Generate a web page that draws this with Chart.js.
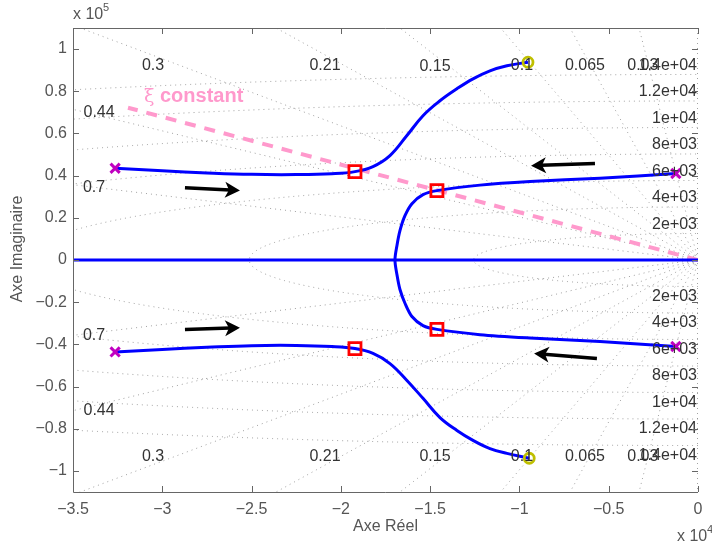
<!DOCTYPE html>
<html lang="fr">
<head>
<meta charset="UTF-8">
<title>Lieu des racines</title>
<script src="https://cdn.jsdelivr.net/npm/chart.js"></script>
<style>
  body { margin: 0; background: #fff; }
  #rl { display: block; }
</style>
</head>
<body>
<canvas id="rl" width="712" height="546"></canvas>
<script>
// real part in units of 1e4, imaginary part in units of 1e5
var xTicks = [-3.5, -3, -2.5, -2, -1.5, -1, -0.5, 0];
var yTicks = [-1, -0.8, -0.6, -0.4, -0.2, 0, 0.2, 0.4, 0.6, 0.8, 1];

var poles = [
    {x: -3.264, y: 0.435}, {x: -3.264, y: -0.436},
    {x: -0.124, y: 0.410}, {x: -0.124, y: -0.410}
];
var zeros = [{x: -0.952, y: 0.938}, {x: -0.945, y: -0.940}];
var marked = [
    {x: -1.921, y: 0.419}, {x: -1.462, y: 0.329},
    {x: -1.462, y: -0.329}, {x: -1.921, y: -0.420}
];

var branchUpperLeft = [
    {x: -3.264, y: 0.435}, {x: -3.0, y: 0.423}, {x: -2.75, y: 0.413},
    {x: -2.5, y: 0.406}, {x: -2.25, y: 0.405}, {x: -2.05, y: 0.409},
    {x: -1.921, y: 0.419}, {x: -1.82, y: 0.443}, {x: -1.725, y: 0.495},
    {x: -1.63, y: 0.590}, {x: -1.54, y: 0.684}, {x: -1.445, y: 0.755},
    {x: -1.35, y: 0.812}, {x: -1.26, y: 0.859}, {x: -1.165, y: 0.897},
    {x: -1.07, y: 0.921}, {x: -0.952, y: 0.938}
];
var branchLowerLeft = [
    {x: -3.264, y: -0.436}, {x: -3.0, y: -0.424}, {x: -2.75, y: -0.414},
    {x: -2.5, y: -0.406}, {x: -2.25, y: -0.405}, {x: -2.05, y: -0.410},
    {x: -1.921, y: -0.420}, {x: -1.82, y: -0.443}, {x: -1.725, y: -0.491},
    {x: -1.63, y: -0.571}, {x: -1.54, y: -0.656}, {x: -1.445, y: -0.747},
    {x: -1.35, y: -0.808}, {x: -1.26, y: -0.855}, {x: -1.165, y: -0.894},
    {x: -1.07, y: -0.917}, {x: -0.945, y: -0.940}
];
var branchRight = [
    {x: -0.124, y: 0.410}, {x: -0.549, y: 0.388}, {x: -0.941, y: 0.372},
    {x: -1.221, y: 0.355}, {x: -1.462, y: 0.329}, {x: -1.54, y: 0.310},
    {x: -1.602, y: 0.267}, {x: -1.641, y: 0.210}, {x: -1.669, y: 0.139},
    {x: -1.686, y: 0.068}, {x: -1.697, y: 0},
    {x: -1.686, y: -0.069}, {x: -1.669, y: -0.140}, {x: -1.641, y: -0.205},
    {x: -1.602, y: -0.268}, {x: -1.54, y: -0.311}, {x: -1.462, y: -0.329},
    {x: -1.221, y: -0.354}, {x: -0.941, y: -0.370}, {x: -0.549, y: -0.387},
    {x: -0.124, y: -0.410}
];
var realAxisLocus = [{x: -3.5, y: 0}, {x: 0, y: 0}];
var zetaLine = [{x: 0, y: 0}, {x: -3.192, y: 0.722}];

// grid values (s-plane)
var dampingLevels = [0.03, 0.065, 0.1, 0.15, 0.21, 0.3, 0.44, 0.7];
var freqLevelsHz = [2e3, 4e3, 6e3, 8e3, 1e4, 1.2e4, 1.4e4];
var freqLabels = ['2e+03', '4e+03', '6e+03', '8e+03', '1e+04', '1.2e+04', '1.4e+04'];
var dampingLabels = [
    {t: '0.3', x: -3.052, y: 0.921}, {t: '0.21', x: -2.089, y: 0.921},
    {t: '0.15', x: -1.473, y: 0.917}, {t: '0.1', x: -0.986, y: 0.921},
    {t: '0.065', x: -0.633, y: 0.921}, {t: '0.03', x: -0.309, y: 0.921},
    {t: '0.44', x: -3.354, y: 0.699}, {t: '0.7', x: -3.382, y: 0.343},
    {t: '0.3', x: -3.052, y: -0.930}, {t: '0.21', x: -2.089, y: -0.930},
    {t: '0.15', x: -1.473, y: -0.930}, {t: '0.1', x: -0.986, y: -0.930},
    {t: '0.065', x: -0.633, y: -0.930}, {t: '0.03', x: -0.309, y: -0.930},
    {t: '0.44', x: -3.354, y: -0.714}, {t: '0.7', x: -3.382, y: -0.358}
];
// arrows: [x from, y from, x to, y to]
var arrows = [
    [-2.873, 0.343, -2.565, 0.329],
    [-2.873, -0.330, -2.565, -0.321],
    [-0.577, 0.458, -0.935, 0.447],
    [-0.566, -0.467, -0.918, -0.443]
];

var FONT = '"Liberation Sans", Arial, sans-serif';
var axisGrey = '#666666';
var textGrey = '#555555';

function fmt(v) {
    var r = Math.round(v * 10) / 10;
    return r < 0 ? '\u2212' + Math.abs(r) : String(r);
}

var gridPlugin = {
    id: 'sgrid',
    beforeDatasetsDraw: function (chart) {
        var ctx = chart.ctx, a = chart.chartArea;
        var xs = chart.scales.x, ys = chart.scales.y;
        var ox = xs.getPixelForValue(0), oy = ys.getPixelForValue(0);
        ctx.save();
        ctx.beginPath();
        ctx.rect(a.left, a.top, a.right - a.left, a.bottom - a.top);
        ctx.clip();
        ctx.strokeStyle = 'rgba(100,100,100,0.6)';
        ctx.lineWidth = 1;
        ctx.setLineDash([1, 4]);
        dampingLevels.forEach(function (z) {
            var wd = Math.sqrt(1 - z * z);
            [1, -1].forEach(function (s) {
                ctx.beginPath();
                ctx.moveTo(ox, oy);
                ctx.lineTo(xs.getPixelForValue(-z * 100), ys.getPixelForValue(s * wd * 10));
                ctx.stroke();
            });
        });
        freqLevelsHz.forEach(function (f) {
            var r = 2 * Math.PI * f;
            var rx = ox - xs.getPixelForValue(-r / 1e4);
            var ry = oy - ys.getPixelForValue(r / 1e5);
            ctx.beginPath();
            ctx.ellipse(ox, oy, rx, ry, 0, Math.PI / 2, 3 * Math.PI / 2);
            ctx.stroke();
        });
        ctx.beginPath();
        ctx.moveTo(a.right - 0.5, a.top);
        ctx.lineTo(a.right - 0.5, a.bottom);
        ctx.stroke();
        ctx.restore();
    }
};

function drawArrow(ctx, x1, y1, x2, y2) {
    var ang = Math.atan2(y2 - y1, x2 - x1);
    var len = Math.hypot(x2 - x1, y2 - y1);
    ctx.save();
    ctx.translate(x2, y2);
    ctx.rotate(ang);
    ctx.strokeStyle = '#000';
    ctx.fillStyle = '#000';
    ctx.lineWidth = 3.5;
    ctx.beginPath();
    ctx.moveTo(-len, 0);
    ctx.lineTo(-10, 0);
    ctx.stroke();
    ctx.beginPath();
    ctx.moveTo(0, 0);
    ctx.lineTo(-15, -8);
    ctx.lineTo(-11, 0);
    ctx.lineTo(-15, 8);
    ctx.closePath();
    ctx.fill();
    ctx.restore();
}

var decorPlugin = {
    id: 'decor',
    afterDatasetsDraw: function (chart) {
        var ctx = chart.ctx, a = chart.chartArea;
        var xs = chart.scales.x, ys = chart.scales.y;
        ctx.save();

        arrows.forEach(function (r) {
            drawArrow(ctx, xs.getPixelForValue(r[0]), ys.getPixelForValue(r[1]),
                xs.getPixelForValue(r[2]), ys.getPixelForValue(r[3]));
        });

        // damping and frequency labels
        ctx.fillStyle = '#333';
        ctx.font = '16px ' + FONT;
        ctx.textBaseline = 'middle';
        ctx.textAlign = 'center';
        dampingLabels.forEach(function (d) {
            ctx.fillText(d.t, xs.getPixelForValue(d.x), ys.getPixelForValue(d.y));
        });
        ctx.textAlign = 'right';
        freqLevelsHz.forEach(function (f, i) {
            var r = 2 * Math.PI * f / 1e5;
            ctx.fillText(freqLabels[i], a.right - 1, ys.getPixelForValue(r) - 9);
            ctx.fillText(freqLabels[i], a.right - 1, ys.getPixelForValue(-r) + 10);
        });

        // xi label
        ctx.fillStyle = '#ff99cc';
        ctx.textAlign = 'left';
        ctx.textBaseline = 'alphabetic';
        ctx.font = '19px "DejaVu Serif", serif';
        ctx.fillText('\u03be', 144, 102);
        ctx.font = 'bold 20px ' + FONT;
        ctx.fillText('constant', 160, 102);

        // box with inward ticks
        ctx.strokeStyle = axisGrey;
        ctx.lineWidth = 1;
        ctx.beginPath();
        ctx.moveTo(a.right, a.top + 0.5);
        ctx.lineTo(a.left + 0.5, a.top + 0.5);
        ctx.lineTo(a.left + 0.5, a.bottom + 0.5);
        ctx.lineTo(a.right, a.bottom + 0.5);
        xTicks.forEach(function (v) {
            var px = Math.round(xs.getPixelForValue(v)) + 0.5;
            ctx.moveTo(px, a.bottom);
            ctx.lineTo(px, a.bottom - 6);
            ctx.moveTo(px, a.top);
            ctx.lineTo(px, a.top + 6);
        });
        yTicks.forEach(function (v) {
            var py = Math.round(ys.getPixelForValue(v)) + 0.5;
            ctx.moveTo(a.left, py);
            ctx.lineTo(a.left + 6, py);
            ctx.moveTo(a.right, py);
            ctx.lineTo(a.right - 6, py);
        });
        ctx.stroke();

        // axis labels and exponents
        ctx.fillStyle = textGrey;
        ctx.font = '16px ' + FONT;
        ctx.fillText('x 10', 73, 19);
        ctx.fillText('x 10', 677, 541);
        ctx.font = '11px ' + FONT;
        ctx.fillText('5', 103, 11);
        ctx.fillText('4', 707, 533);
        ctx.font = '16px ' + FONT;
        ctx.save();
        ctx.translate(18, 249);
        ctx.rotate(-Math.PI / 2);
        ctx.textAlign = 'center';
        ctx.textBaseline = 'middle';
        ctx.fillText('Axe Imaginaire', 0, 0);
        ctx.restore();

        ctx.restore();
    }
};

var locusStyle = {
    type: 'scatter', showLine: true, borderColor: '#0000ff', borderWidth: 3,
    pointRadius: 0, tension: 0.4, order: 5, fill: false
};

new Chart(document.getElementById('rl'), {
    type: 'scatter',
    data: {
        datasets: [
            {data: zetaLine, showLine: true, borderColor: '#ff99cc', borderWidth: 4,
                borderDash: [11, 9], pointRadius: 0, order: 10},
            Object.assign({data: realAxisLocus}, locusStyle, {tension: 0}),
            Object.assign({data: branchUpperLeft}, locusStyle),
            Object.assign({data: branchLowerLeft}, locusStyle),
            Object.assign({data: branchRight}, locusStyle, {tension: 0.3}),
            {data: marked, pointStyle: 'rect', pointRadius: 8.5, borderWidth: 2.8,
                borderColor: '#ff0000', backgroundColor: 'rgba(0,0,0,0)', order: 3},
            {data: poles, pointStyle: 'crossRot', pointRadius: 6.5, borderWidth: 3,
                borderColor: '#c000c0', order: 2},
            {data: zeros, pointStyle: 'circle', pointRadius: 5, borderWidth: 2.8,
                borderColor: '#bfbf00', backgroundColor: 'rgba(0,0,0,0)', order: 1}
        ]
    },
    options: {
        responsive: false,
        animation: false,
        devicePixelRatio: 1,
        events: [],
        layout: {padding: {top: 28, right: 14, left: 0, bottom: 0}},
        plugins: {legend: {display: false}, tooltip: {enabled: false}},
        scales: {
            x: {
                type: 'linear', min: -3.5, max: 0,
                afterBuildTicks: function (s) { s.ticks = xTicks.map(function (v) { return {value: v}; }); },
                afterFit: function (s) { s.height = 54; },
                grid: {display: false, drawTicks: false},
                border: {display: false},
                ticks: {padding: 8, color: textGrey, font: {family: FONT, size: 16},
                    callback: fmt, autoSkip: false, maxRotation: 0},
                title: {display: true, text: 'Axe Réel', color: textGrey,
                    font: {family: FONT, size: 16}, padding: {top: 0, bottom: 10}}
            },
            y: {
                type: 'linear', min: -1.1, max: 1.1,
                afterBuildTicks: function (s) { s.ticks = yTicks.map(function (v) { return {value: v}; }); },
                afterFit: function (s) { s.width = 73; },
                grid: {display: false, drawTicks: false},
                border: {display: false},
                ticks: {padding: 6, color: textGrey, font: {family: FONT, size: 16},
                    callback: fmt, autoSkip: false}
            }
        }
    },
    plugins: [gridPlugin, decorPlugin]
});
</script>
</body>
</html>
